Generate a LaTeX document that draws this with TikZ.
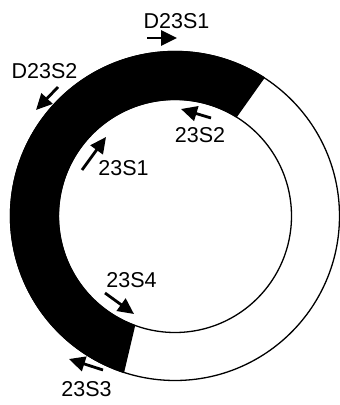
\documentclass[tikz,border=0pt]{standalone}
\usepackage{fontspec}
\setmainfont{Liberation Sans}
\usetikzlibrary{arrows.meta,calc}
\begin{document}
\begin{tikzpicture}[x=1pt,y=1pt,
  lbl/.style={inner sep=0pt,font=\fontsize{21.5}{21.5}\selectfont},
  primer/.style={line width=2.8pt,-{Triangle[length=16pt,width=15pt]}},
  ringline/.style={line width=1.3pt}]
\useasboundingbox (0,0) rectangle (340,405);
\coordinate (c) at (175,189);
% white ring outline
\draw[ringline] (c) circle[radius=164.5];
\draw[ringline] (c) circle[radius=116.5];
% black segment
\fill (c) ++(57:165.2) arc[start angle=57,end angle=252,radius=165.2]
  -- ($(c)+(250:116)$) arc[start angle=250,end angle=58,radius=116] -- cycle;
% labels
\node[lbl] (l1) at (176.5,384) {D23S1};
\node[lbl] (l2) at (44.5,333.5) {D23S2};
\node[lbl] (l3) at (200,270) {23S2};
\node[lbl] (l4) at (123.5,236.5) {23S1};
\node[lbl] (l5) at (131.5,125) {23S4};
\node[lbl] (l6) at (86.5,16) {23S3};
% arrow coordinates
\coordinate (a1s) at (147,367); \coordinate (a1e) at (177,367);
\coordinate (a2s) at (58,318);  \coordinate (a2e) at (36,295);
\coordinate (a3s) at (211,287); \coordinate (a3e) at (181,296);
\coordinate (a4s) at (82,235);  \coordinate (a4e) at (106,268);
\coordinate (a5s) at (105,112); \coordinate (a5e) at (134,91);
\coordinate (a6s) at (103,35);  \coordinate (a6e) at (69,46);
\draw[primer] (a1s) -- (a1e);
\draw[primer] (a2s) -- (a2e);
\draw[primer] (a3s) -- (a3e);
\draw[primer] (a4s) -- (a4e);
\draw[primer] (a5s) -- (a5e);
\draw[primer] (a6s) -- (a6e);
\end{tikzpicture}
\end{document}
